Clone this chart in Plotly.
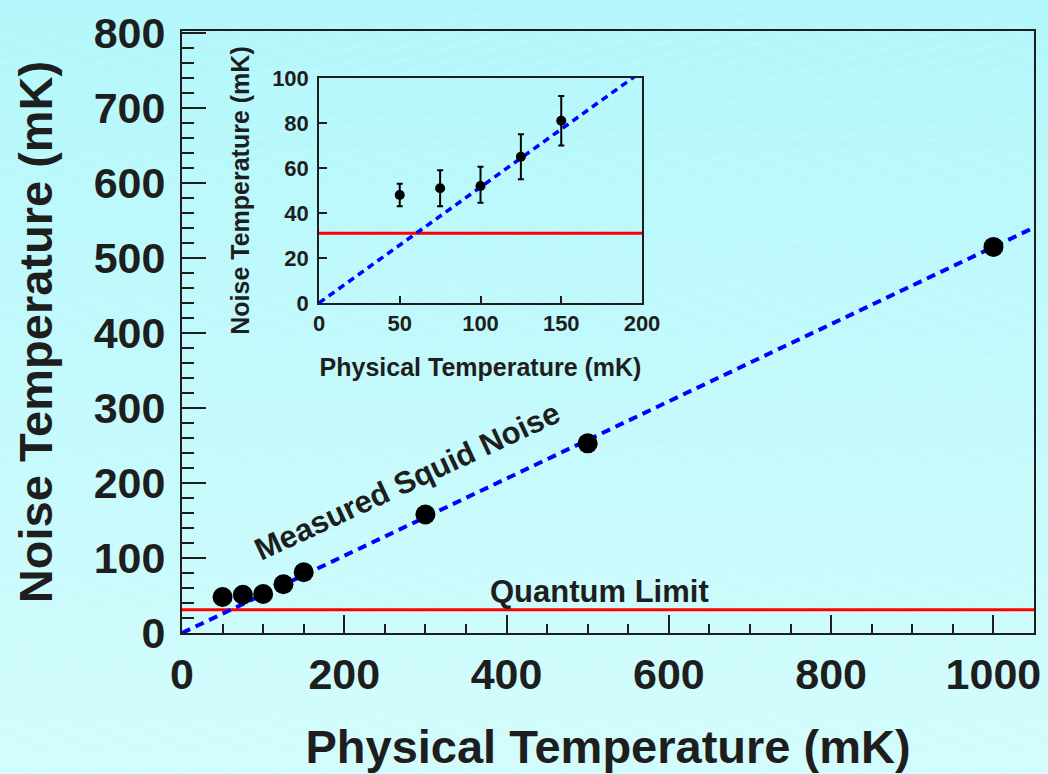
import base64
import plotly.graph_objects as go

# ---------------- data ----------------
phys_temp = [50, 75, 100, 125, 150, 300, 500, 1000]
noise_temp = [48, 51, 52, 65, 81, 158, 253, 515]

inset_temp = [50, 75, 100, 125, 150]
inset_noise = [48, 51, 52, 65, 81]
inset_err_plus = [5, 8, 8.5, 10, 11]
inset_err_minus = [5, 8, 7.5, 10, 11]

fit_x = [0, 1050]
fit_y = [0, 540.75]          # slope ~0.515 mK/mK
quantum_limit = 31
quantum_x = [0, 1050]

main_xticks = [0, 200, 400, 600, 800, 1000]
main_yticks = [0, 100, 200, 300, 400, 500, 600, 700, 800]
inset_xticks = [0, 50, 100, 150, 200]
inset_yticks = [0, 20, 40, 60, 80, 100]

# ---------------- layout geometry ----------------
W, H = 1048, 774
L, R, T, B = 182, 14, 31, 141
PW, PH = W - L - R, H - T - B

TXT = "#1e1e1e"
FONT = "Liberation Sans, Arial, Helvetica, sans-serif"

# background gradient with faint diagonal stripes
stripes = "".join(
    f'<line x1="0" y1="{y}" x2="{W}" y2="{y - 280}" stroke="white" stroke-opacity="0.22" stroke-width="1"/>'
    for y in range(-40, H + 320, 13)
)
svg = f'''<svg xmlns="http://www.w3.org/2000/svg" width="{W}" height="{H}" viewBox="0 0 {W} {H}" preserveAspectRatio="none">
<defs><linearGradient id="g" x1="0" y1="0" x2="0" y2="1">
<stop offset="0" stop-color="#b2f7fb"/><stop offset="1" stop-color="#d3fcfc"/></linearGradient></defs>
<rect width="{W}" height="{H}" fill="url(#g)"/>{stripes}</svg>'''
bg_src = "data:image/svg+xml;base64," + base64.b64encode(svg.encode()).decode()

fig = go.Figure()

# main plot
fig.add_trace(go.Scatter(x=quantum_x, y=[quantum_limit] * 2, mode="lines",
                         line=dict(color="#ff0000", width=3), xaxis="x", yaxis="y",
                         hoverinfo="skip", showlegend=False))
fig.add_trace(go.Scatter(x=fit_x, y=fit_y, mode="lines",
                         line=dict(color="#0000ff", width=4, dash="9px,6px"),
                         xaxis="x", yaxis="y", showlegend=False))
fig.add_trace(go.Scatter(x=phys_temp, y=noise_temp, mode="markers",
                         marker=dict(color="black", size=20), xaxis="x", yaxis="y",
                         showlegend=False))

# inset
fig.add_trace(go.Scatter(x=quantum_x, y=[quantum_limit] * 2, mode="lines",
                         line=dict(color="#ff0000", width=3), xaxis="x2", yaxis="y2",
                         hoverinfo="skip", showlegend=False))
fig.add_trace(go.Scatter(x=fit_x, y=fit_y, mode="lines",
                         line=dict(color="#0000ff", width=3.5, dash="7px,5px"),
                         xaxis="x2", yaxis="y2", showlegend=False))
fig.add_trace(go.Scatter(x=inset_temp, y=inset_noise, mode="markers",
                         marker=dict(color="black", size=10),
                         error_y=dict(type="data", array=inset_err_plus,
                                      arrayminus=inset_err_minus, symmetric=False,
                                      color="black", thickness=2, width=3),
                         xaxis="x2", yaxis="y2", showlegend=False))

axcommon = dict(showgrid=False, zeroline=False, showline=True, linecolor=TXT,
                linewidth=2, mirror=True, ticks="inside", tickcolor=TXT, tickwidth=2,
                automargin=False)

fig.update_layout(
    width=W, height=H,
    margin=dict(l=L, r=R, t=T, b=B, pad=0),
    paper_bgcolor="#c4fafb",
    plot_bgcolor="rgba(0,0,0,0)",
    font=dict(family=FONT, color=TXT),
    images=[dict(source=bg_src, xref="paper", yref="paper",
                 x=-L / PW, y=1 + T / PH, sizex=W / PW, sizey=H / PH,
                 sizing="stretch", xanchor="left", yanchor="top", layer="below")],
    xaxis=dict(axcommon, range=[0, 1050], tickvals=main_xticks, ticklen=18,
               tickfont=dict(size=43, family=FONT, weight="bold"),
               ticklabelstandoff=2,
               minor=dict(dtick=50, tick0=0, ticks="inside", ticklen=9,
                          tickcolor=TXT, tickwidth=2),
               title=dict(text="Physical Temperature (mK)", standoff=34,
                          font=dict(size=47, family=FONT, weight="bold"))),
    yaxis=dict(axcommon, range=[0, 803], tickvals=main_yticks, ticklen=24,
               tickfont=dict(size=43, family=FONT, weight="bold"),
               ticklabelstandoff=6,
               minor=dict(dtick=20, tick0=0, ticks="inside", ticklen=12,
                          tickcolor=TXT, tickwidth=2),
               title=dict(text="Noise Temperature (mK)", standoff=26,
                          font=dict(size=47, family=FONT, weight="bold"))),
    xaxis2=dict(axcommon, domain=[(319 - L) / PW, (642 - L) / PW], anchor="y2",
                range=[0, 200], tickvals=inset_xticks, ticklen=7, linewidth=1.5,
                tickfont=dict(size=22, family=FONT, weight="bold"),
                ticklabelstandoff=0,
                title=dict(text="Physical Temperature (mK)", standoff=23,
                           font=dict(size=25, family=FONT, weight="bold"))),
    yaxis2=dict(axcommon, domain=[(H - B - 303) / PH, (H - B - 78) / PH], anchor="x2",
                range=[0, 100], tickvals=inset_yticks, ticklen=8, linewidth=1.5,
                tickfont=dict(size=22, family=FONT, weight="bold"),
                ticklabelstandoff=4,
                title=dict(text="Noise Temperature (mK)", standoff=15,
                           font=dict(size=25, family=FONT, weight="bold"))),
    annotations=[
        dict(text="Measured Squid Noise", x=277, y=202, xref="x", yref="y",
             showarrow=False, textangle=-25,
             font=dict(size=31, family=FONT, color=TXT, weight="bold")),
        dict(text="Quantum Limit", x=515, y=55, xref="x", yref="y",
             showarrow=False,
             font=dict(size=31, family=FONT, color=TXT, weight="bold")),
    ],
)

fig.write_html(
    "out.html",
    config={"displayModeBar": False},
    post_script="document.body.style.margin='0';document.body.style.overflow='hidden';",
)
